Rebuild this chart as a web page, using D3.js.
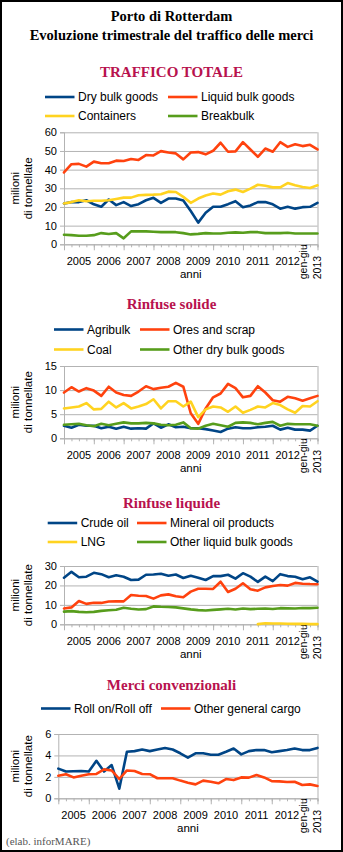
<!DOCTYPE html>
<html>
<head>
<meta charset="utf-8">
<script src="https://cdn.jsdelivr.net/npm/d3@7"></script>
<style>
  body { margin: 0; background: #fff; }
  svg { display: block; }
  .serif { font-family: "Liberation Serif", "Times New Roman", serif; }
  .sans { font-family: "Liberation Sans", Arial, sans-serif; }
</style>
</head>
<body>
<svg id="chart" width="343" height="852"></svg>
<script>
// quarterly points, 2004 Q4 .. 2013 Q2
const quarters = [
  "2004-4",
  "2005-1", "2005-2", "2005-3", "2005-4",
  "2006-1", "2006-2", "2006-3", "2006-4",
  "2007-1", "2007-2", "2007-3", "2007-4",
  "2008-1", "2008-2", "2008-3", "2008-4",
  "2009-1", "2009-2", "2009-3", "2009-4",
  "2010-1", "2010-2", "2010-3", "2010-4",
  "2011-1", "2011-2", "2011-3", "2011-4",
  "2012-1", "2012-2", "2012-3", "2012-4",
  "2013-1", "2013-2"
];
const majorTicks = ["2004-4", "2005-4", "2006-4", "2007-4", "2008-4", "2009-4", "2010-4", "2011-4", "2012-4", "2013-2"];
const yearLabels = ["2005", "2006", "2007", "2008", "2009", "2010", "2011", "2012", "gen-giu 2013"];

// TRAFFICO TOTALE
const totaleNames = ["Dry bulk goods", "Liquid bulk goods", "Containers", "Breakbulk"];
const dryBulk = [21.9, 22.6, 22.6, 23.6, 21.4, 20.1, 24.0, 21.0, 22.6, 20.5, 21.5, 23.6, 24.9, 22.2, 24.5, 24.5, 23.5, 17.8, 11.6, 16.9, 20.1, 20.1, 21.5, 23.1, 19.9, 20.8, 22.6, 22.6, 21.4, 19.1, 20.1, 19.1, 19.9, 20.1, 22.2];
const liquidBulk = [38.5, 42.9, 43.1, 41.6, 44.3, 43.4, 43.4, 44.8, 44.6, 45.7, 45.2, 47.8, 47.6, 49.9, 49.2, 48.7, 45.5, 49.2, 49.4, 48.2, 50.1, 54.4, 49.6, 49.8, 54.7, 50.8, 46.9, 51.3, 49.6, 54.7, 52.2, 53.6, 52.6, 53.3, 50.8];
const containers = [21.9, 22.6, 23.6, 23.1, 23.3, 23.3, 23.6, 24.3, 25.0, 25.0, 26.3, 26.5, 26.6, 26.8, 28.2, 28.0, 25.4, 22.2, 24.5, 26.1, 27.2, 26.6, 28.4, 29.3, 28.0, 29.8, 31.9, 31.4, 30.5, 30.5, 32.8, 31.6, 30.7, 30.2, 31.6];
const breakbulk = [5.1, 4.9, 4.6, 4.6, 4.9, 6.0, 5.5, 6.0, 3.2, 6.9, 6.9, 6.9, 6.7, 6.5, 6.5, 6.5, 6.0, 5.3, 5.6, 6.0, 5.8, 5.8, 6.2, 6.4, 6.2, 6.5, 6.5, 6.0, 6.0, 6.0, 6.2, 5.8, 5.8, 5.8, 5.8];

// Rinfuse solide
const solideNames = ["Agribulk", "Ores and scrap", "Coal", "Other dry bulk goods"];
const agribulk = [2.6, 2.2, 2.8, 2.6, 2.6, 2.1, 2.4, 2.0, 2.4, 2.0, 2.1, 2.0, 3.1, 2.2, 2.9, 2.3, 2.4, 2.1, 2.1, 1.9, 1.6, 1.3, 2.0, 2.3, 2.1, 2.1, 2.3, 2.4, 2.6, 1.8, 2.2, 1.8, 1.8, 1.6, 2.6];
const oresScrap = [9.5, 10.6, 9.7, 10.4, 9.9, 8.8, 10.7, 9.5, 9.0, 8.8, 9.7, 10.8, 10.2, 10.5, 10.7, 11.5, 10.7, 5.2, 3.0, 6.2, 8.5, 9.3, 11.3, 10.4, 8.5, 8.8, 10.8, 9.5, 7.9, 7.6, 8.6, 8.3, 7.8, 8.3, 8.8];
const coal = [6.2, 6.4, 6.6, 7.3, 6.0, 6.1, 7.6, 6.4, 7.3, 6.2, 6.6, 7.1, 8.1, 6.2, 7.7, 7.7, 6.6, 7.6, 4.4, 6.0, 6.6, 6.4, 5.5, 6.6, 5.3, 5.9, 6.6, 6.4, 7.3, 6.9, 6.0, 5.3, 6.7, 6.6, 7.7];
const otherDry = [2.8, 2.9, 3.0, 2.7, 2.5, 3.0, 2.7, 3.0, 3.3, 3.1, 3.1, 3.2, 3.1, 2.8, 2.7, 2.8, 3.3, 2.1, 2.0, 2.6, 3.0, 2.7, 2.4, 3.2, 3.3, 3.2, 2.9, 3.2, 3.4, 2.6, 3.0, 2.9, 2.9, 2.9, 2.6];

// Rinfuse liquide
const liquideNames = ["Crude oil", "Mineral oil products", "LNG", "Other liquid bulk goods"];
const crudeOil = [24.0, 27.0, 24.2, 24.5, 26.5, 25.8, 24.2, 25.2, 24.5, 22.8, 23.0, 25.5, 25.6, 26.0, 25.0, 25.6, 23.8, 25.0, 24.0, 22.8, 24.8, 24.8, 25.5, 23.5, 26.3, 24.5, 21.8, 24.5, 22.2, 25.8, 24.8, 24.5, 23.2, 24.2, 22.0];
const mineralOil = [8.1, 8.7, 12.0, 10.5, 11.1, 11.0, 11.7, 11.8, 11.8, 15.1, 14.7, 14.6, 13.2, 14.9, 15.4, 14.4, 13.9, 16.8, 18.3, 18.3, 18.2, 21.9, 16.6, 18.3, 21.1, 18.0, 17.3, 19.0, 19.7, 20.2, 19.9, 21.3, 20.9, 20.7, 20.6];
const lng = [null, null, null, null, null, null, null, null, null, null, null, null, null, null, null, null, null, null, null, null, null, null, null, null, null, null, 0.1, 0.5, 0.4, 0.4, 0.3, 0.2, 0.3, 0.1, 0.1];
const otherLiquid = [6.5, 6.8, 6.4, 6.2, 6.4, 6.9, 7.2, 7.5, 8.5, 8.0, 7.6, 7.8, 9.2, 9.0, 8.9, 8.7, 8.2, 7.7, 7.3, 7.1, 7.4, 7.7, 8.0, 7.6, 8.1, 7.8, 8.0, 8.1, 7.9, 8.3, 8.2, 8.1, 8.4, 8.3, 8.5];

// Merci convenzionali
const convNames = ["Roll on/Roll off", "Other general cargo"];
const rollOn = [2.77, 2.5, 2.52, 2.55, 2.5, 3.5, 2.5, 3.1, 0.9, 4.35, 4.4, 4.55, 4.4, 4.55, 4.7, 4.55, 4.2, 3.8, 4.2, 4.2, 4.07, 4.07, 4.35, 4.65, 4.1, 4.4, 4.5, 4.5, 4.3, 4.4, 4.5, 4.65, 4.5, 4.5, 4.7];
const otherGeneral = [2.1, 2.25, 1.95, 2.1, 2.25, 2.27, 2.7, 2.6, 1.8, 2.6, 2.55, 2.27, 2.25, 1.87, 1.87, 1.87, 1.65, 1.46, 1.3, 1.65, 1.55, 1.4, 1.8, 1.7, 1.95, 1.93, 2.18, 1.95, 1.6, 1.58, 1.52, 1.55, 1.24, 1.3, 1.15];

const colors = ["#004586", "#ff420e", "#ffd320", "#579d1c"];
const gridColor = "#b3b3b3";
const plotRight = 317.5;

const svg = d3.select("#chart");

svg.append("rect").attr("x", 1).attr("y", 1).attr("width", 341).attr("height", 850)
  .attr("fill", "#fff").attr("stroke", "#000").attr("stroke-width", 2);

svg.append("text").attr("class", "serif").attr("x", 171.5).attr("y", 21).attr("text-anchor", "middle")
  .attr("font-size", 14.5).attr("font-weight", "bold").text("Porto di Rotterdam");
svg.append("text").attr("class", "serif").attr("x", 171.5).attr("y", 40).attr("text-anchor", "middle")
  .attr("font-size", 14.5).attr("font-weight", "bold").text("Evoluzione trimestrale del traffico delle merci");

function drawPanel(p) {
  const g = svg.append("g");
  const x = d3.scalePoint().domain(quarters).range([p.left, plotRight]);
  const y = d3.scaleLinear().domain([0, p.yMax]).range([p.bottom, p.top]);
  const yTicks = y.ticks(p.yMax / p.yStep);

  g.append("text").attr("class", "serif").attr("x", 171.5).attr("y", p.titleY).attr("text-anchor", "middle")
    .attr("font-size", 15).attr("font-weight", "bold").attr("fill", "#b8124e").text(p.title);

  p.names.forEach((name, i) => {
    const lx = p.legendX[i % 2], ly = p.legendY[Math.floor(i / 2)];
    g.append("line").attr("x1", lx).attr("x2", lx + 29.5).attr("y1", ly - 4).attr("y2", ly - 4)
      .attr("stroke", colors[i]).attr("stroke-width", 2.6);
    g.append("text").attr("class", "sans").attr("x", lx + 33).attr("y", ly)
      .attr("font-size", 12).attr("fill", "#000").text(name);
  });

  // grid
  g.append("g").attr("transform", `translate(${p.left},0)`)
    .call(d3.axisLeft(y).tickValues(yTicks).tickSize(-(plotRight - p.left)).tickFormat(""))
    .call((a) => a.select(".domain").remove())
    .call((a) => a.selectAll("line").attr("stroke", gridColor));

  // y axis
  g.append("g").attr("class", "sans").attr("transform", `translate(${p.left},0)`)
    .call(d3.axisLeft(y).tickValues(yTicks).tickSize(4).tickPadding(3).tickFormat(d3.format("d")))
    .call((a) => a.select(".domain").attr("stroke", gridColor))
    .call((a) => a.selectAll("line").attr("stroke", gridColor))
    .call((a) => a.selectAll("text").attr("font-size", 11).attr("fill", "#000").attr("font-family", null));

  g.append("line").attr("x1", plotRight + 0.5).attr("x2", plotRight + 0.5).attr("y1", p.top).attr("y2", p.bottom)
    .attr("stroke", gridColor);

  // x axis: quarter ticks + year ticks
  g.append("g").attr("transform", `translate(0,${p.bottom})`)
    .call(d3.axisBottom(x).tickValues(quarters).tickSize(3).tickFormat(""))
    .call((a) => a.select(".domain").attr("stroke", gridColor))
    .call((a) => a.selectAll("line").attr("stroke", gridColor));
  g.append("g").attr("transform", `translate(0,${p.bottom})`)
    .call(d3.axisBottom(x).tickValues(majorTicks).tickSize(6).tickFormat(""))
    .call((a) => a.select(".domain").remove())
    .call((a) => a.selectAll("line").attr("stroke", gridColor));

  yearLabels.forEach((label, i) => {
    const mid = (x(majorTicks[i]) + x(majorTicks[i + 1])) / 2;
    if (i < yearLabels.length - 1) {
      g.append("text").attr("class", "sans").attr("x", mid).attr("y", p.bottom + 20.5)
        .attr("text-anchor", "middle").attr("font-size", 11).text(label);
    } else {
      label.split(" ").forEach((part, j) => {
        g.append("text").attr("class", "sans")
          .attr("transform", `translate(${mid - 6.5 + j * 13.5},${p.bottom + 35}) rotate(-90)`)
          .attr("dy", "0.35em").attr("font-size", 10.5).text(part);
      });
    }
  });

  g.append("text").attr("class", "sans").attr("x", (p.left + plotRight) / 2).attr("y", p.bottom + 34)
    .attr("text-anchor", "middle").attr("font-size", 11.5).text("anni");

  ["milioni", "di tonnellate"].forEach((t, j) => {
    g.append("text").attr("class", "sans")
      .attr("transform", `translate(${15 + j * 13},${(p.top + p.bottom) / 2}) rotate(-90)`)
      .attr("text-anchor", "middle").attr("dy", "0.35em").attr("font-size", 11.5).text(t);
  });

  const line = d3.line().defined((d) => d != null).x((d, i) => x(quarters[i])).y((d) => y(d));
  p.series.forEach((values, i) => {
    g.append("path").attr("d", line(values)).attr("fill", "none").attr("stroke", colors[i])
      .attr("stroke-width", 2.6).attr("stroke-linejoin", "round").attr("stroke-linecap", "round");
  });
}

drawPanel({
  title: "TRAFFICO TOTALE", titleY: 77, names: totaleNames, series: [dryBulk, liquidBulk, containers, breakbulk],
  legendX: [45, 168], legendY: [101, 120], top: 132.3, bottom: 244.3, left: 64, yMax: 60, yStep: 10
});
drawPanel({
  title: "Rinfuse solide", titleY: 309, names: solideNames, series: [agribulk, oresScrap, coal, otherDry],
  legendX: [54, 140], legendY: [333.5, 353.5], top: 366, bottom: 438.3, left: 64, yMax: 15, yStep: 5
});
drawPanel({
  title: "Rinfuse liquide", titleY: 508, names: liquideNames, series: [crudeOil, mineralOil, lng, otherLiquid],
  legendX: [47.7, 137], legendY: [527, 546], top: 566, bottom: 624.3, left: 64, yMax: 30, yStep: 10
});
drawPanel({
  title: "Merci convenzionali", titleY: 690, names: convNames, series: [rollOn, otherGeneral],
  legendX: [41, 161], legendY: [712.5], top: 734, bottom: 798.3, left: 58.3, yMax: 6, yStep: 2
});

svg.append("text").attr("class", "serif").attr("x", 6).attr("y", 845).attr("font-size", 11)
  .attr("fill", "#555").text("(elab. inforMARE)");
</script>
</body>
</html>
